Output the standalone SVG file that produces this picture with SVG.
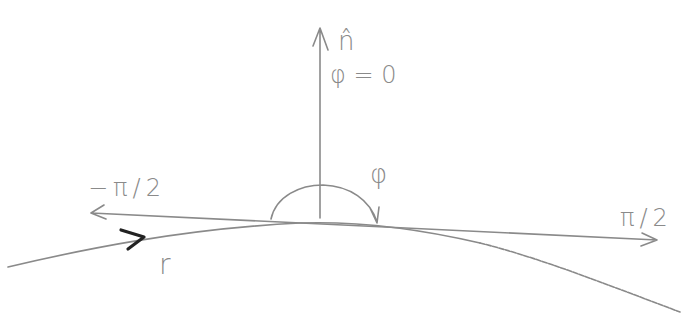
<svg xmlns="http://www.w3.org/2000/svg" width="688" height="327" viewBox="0 0 688 327">
<style>
.s{fill:none;stroke:#8a8a8a;stroke-width:1.6;stroke-linecap:round;stroke-linejoin:round}
.t{font-family:"DejaVu Sans",sans-serif;fill:#8a8a8a;font-weight:300}
</style>
<rect width="688" height="327" fill="#fff"/>
<g id="curve">
<path class="s" d="M8,267 C80,250 180,229 300,223 C360,221 420,229 480,243" />
<path class="s" d="M480,243 C540,258 600,282 680,312" stroke-dasharray="5,1.5" stroke="#9a9a9a" stroke-width="1.3"/>
<path d="M121,230 L144,237 L128,249" fill="none" stroke="#222" stroke-width="3.2" stroke-linejoin="round" stroke-linecap="round"/>
<text class="t" x="159" y="274" font-size="28">r</text>
</g>
<g id="normal">
<path class="s" d="M320,218 L320,28 M313,46 L320,28 L328,50"/>
<text class="t" x="338" y="50" font-size="26">n̂</text>
<text class="t" x="330" y="83" font-size="24">φ = 0</text>
</g>
<g id="tangent">
<path class="s" d="M91,213 L657,240 M104,205 L91,213 L106,219 M642,233 L657,240 L641,246"/>
<text class="t" x="88" y="196" font-size="24" letter-spacing="5">−π/2</text>
<text class="t" x="620" y="226" font-size="24" letter-spacing="5">π/2</text>
</g>
<g id="angle">
<path class="s" d="M271,219 C276,196 300,185 323,185 C350,186 370,200 377,222 M370,208 L377,223 L379,207"/>
<text class="t" x="370" y="183" font-size="26">φ</text>
</g>
</svg>
